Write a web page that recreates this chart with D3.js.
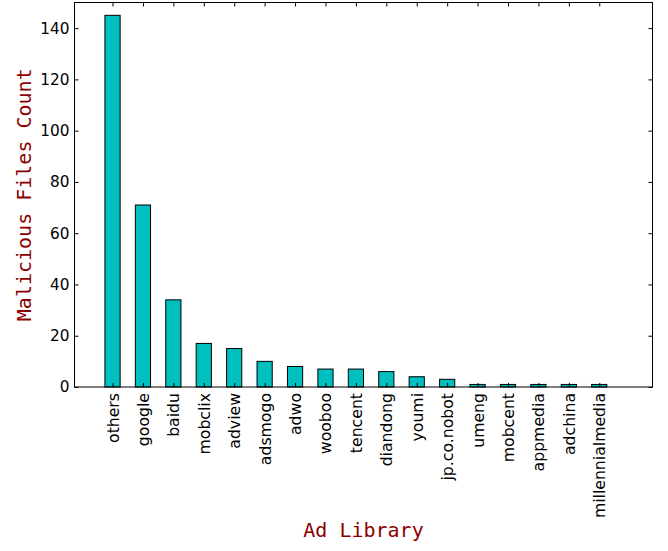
<!DOCTYPE html>
<html>
<head>
<meta charset="utf-8">
<script src="https://cdn.jsdelivr.net/npm/d3@7"></script>
<style>
  body { margin: 0; background: #fff; }
  .tick text { font-family: "DejaVu Sans", sans-serif; font-size: 15.3px; fill: #000; }
  .xlab .tick text { font-size: 15.7px; }
  .domain { display: none; }
</style>
</head>
<body>
<div id="chart"></div>
<script>
// data
let libraries = ["others", "google", "baidu", "mobclix", "adview", "adsmogo", "adwo", "wooboo",
	"tencent", "diandong", "youmi", "jp.co.nobot", "umeng", "mobcent", "appmedia", "adchina", "millennialmedia"];
let counts = [145, 71, 34, 17, 15, 10, 8, 7, 7, 6, 4, 3, 1, 1, 1, 1, 1];
let yTicks = [0, 20, 40, 60, 80, 100, 120, 140];

let margin = { top: 2.5, right: 15.5, bottom: 164, left: 74.5 },
	w = 668 - margin.left - margin.right,
	h = 551 - margin.top - margin.bottom;

let svg = d3.select("#chart")
	.append("svg")
	.attr("width", 668)
	.attr("height", 551)
	.append("g")
	.attr("transform", "translate(" + margin.left + "," + margin.top + ")");

// bar positions 0..16, matplotlib-ish limits
let x = d3.scaleLinear()
	.domain([-1.25, 17.75])
	.range([0, w]);

let y = d3.scaleLinear()
	.domain([0, 150])
	.range([h, 0]);

let idx = d3.range(libraries.length);
let barW = x(0.5) - x(0);

// bars
svg.append("g")
	.selectAll("rect")
	.data(idx)
	.enter().append("rect")
	.attr("x", function (i) { return x(i) - barW / 2; })
	.attr("y", function (i) { return y(counts[i]); })
	.attr("width", barW)
	.attr("height", function (i) { return h - y(counts[i]); })
	.attr("fill", "#00bfbf")
	.attr("stroke", "#000")
	.attr("stroke-width", 1);

// axes (ticks pointing inward)
svg.append("g")
	.attr("class", "xlab")
	.attr("transform", "translate(0," + h + ")")
	.call(d3.axisBottom(x).tickValues(idx).tickSize(-4).tickPadding(7)
		.tickFormat(function (i) { return libraries[i]; }))
	.selectAll("text")
	.attr("transform", "rotate(-90)")
	.attr("text-anchor", "end")
	.attr("x", -6)
	.attr("y", 0)
	.attr("dy", "0.35em");

svg.append("g")
	.call(d3.axisTop(x).tickValues(idx).tickSize(-4).tickFormat(""));

svg.append("g")
	.call(d3.axisLeft(y).tickValues(yTicks).tickSize(-4).tickPadding(5));

svg.append("g")
	.attr("transform", "translate(" + w + ",0)")
	.call(d3.axisRight(y).tickValues(yTicks).tickSize(-4).tickFormat(""));

svg.selectAll(".tick line").attr("stroke", "#000");

// frame
svg.append("rect")
	.attr("width", w)
	.attr("height", h)
	.attr("fill", "none")
	.attr("stroke", "#000")
	.attr("stroke-width", 1);

// axis titles
svg.append("text")
	.attr("x", w / 2)
	.attr("y", 537 - margin.top)
	.attr("text-anchor", "middle")
	.attr("font-family", "DejaVu Sans Mono, monospace")
	.attr("font-size", "20px")
	.attr("fill", "#8b0000")
	.text("Ad Library");

svg.append("text")
	.attr("transform", "translate(" + (31 - margin.left) + "," + (h / 2) + ") rotate(-90)")
	.attr("text-anchor", "middle")
	.attr("font-family", "DejaVu Sans Mono, monospace")
	.attr("font-size", "20px")
	.attr("fill", "#8b0000")
	.text("Malicious Files Count");
</script>
</body>
</html>
